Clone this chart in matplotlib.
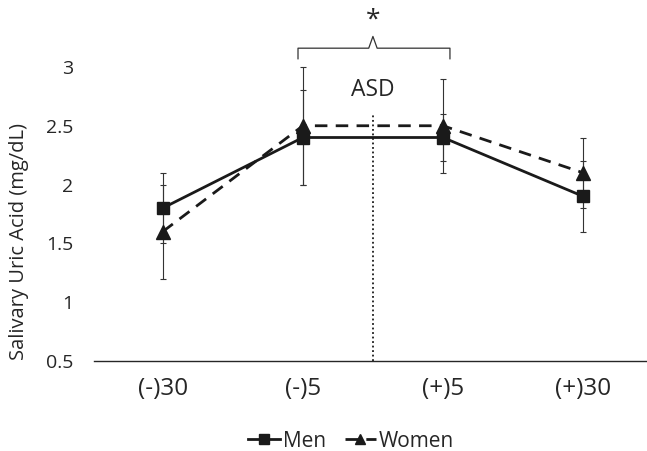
import matplotlib.pyplot as plt

plt.rcParams['font.family'] = ['Open Sans', 'DejaVu Sans']

times = ['(-)30', '(-)5', '(+)5', '(+)30']
men = [1.8, 2.4, 2.4, 1.9]
men_err = [0.3, 0.4, 0.2, 0.3]
women = [1.6, 2.5, 2.5, 2.1]
women_err = [0.4, 0.5, 0.4, 0.3]
yticks = [0.5, 1, 1.5, 2, 2.5, 3]

ink = '#1a1a1a'
txt = '#262626'

fig = plt.figure(figsize=(6.47, 4.51), dpi=100)
ax = fig.add_axes([0.145, 0.2, 0.855, 0.8])

x = list(range(len(times)))

ax.errorbar(x, men, yerr=men_err, fmt='none', ecolor='#333333', elinewidth=0.8, capsize=2.5, capthick=0.8, zorder=2)
ax.errorbar(x, women, yerr=women_err, fmt='none', ecolor='#333333', elinewidth=0.8, capsize=2.5, capthick=0.8, zorder=2)
ax.plot(x, men, color=ink, lw=2, marker='s', ms=8.5, label='Men', zorder=3)
ax.plot(x, women, color=ink, lw=2, dashes=(4.5, 3), marker='^', ms=9.5, label='Women', zorder=3)

# ASD marker line
ax.plot([1.5, 1.5], [0.5, 2.6], color=ink, lw=1.3, ls=(0, (1, 1.5)), zorder=1)
ax.text(1.5, 2.8, 'ASD', ha='center', va='center', fontsize=16.5, color=txt)

# significance bracket
bl, br, by, bd, bt = 0.965, 2.05, 3.16, 0.09, 3.26
ax.plot([bl, bl, 1.47, 1.5, 1.53, br, br], [by - bd, by, by, bt, by, by, by - bd], color='#333333', lw=0.9, solid_joinstyle='round')
ax.text(1.5, 3.4, '*', ha='center', va='center', fontsize=19, color=txt)

ax.set_xlim(-0.493, 3.457)
ax.set_ylim(0.5, 3.57)
ax.set_xticks(x)
ax.set_xticklabels(times, fontsize=17.5, color=txt)
ax.set_yticks(yticks)
ax.set_yticklabels([f'{v:g}' for v in yticks], fontsize=14, color=txt)
ax.tick_params(axis='both', length=0)
ax.tick_params(axis='x', pad=12)
ax.tick_params(axis='y', pad=15)
for s in ['left', 'right', 'top']:
    ax.spines[s].set_visible(False)
ax.spines['bottom'].set_color('#262626')
ax.spines['bottom'].set_linewidth(1)
ax.set_ylabel('Salivary Uric Acid (mg/dL)', fontsize=14.5, color=txt)
ax.yaxis.set_label_coords(-0.117, 0.33)

leg = fig.legend(loc='center', bbox_to_anchor=(0.543, 0.022), ncol=2, frameon=False, fontsize=15,
                 handlelength=1.5, handletextpad=0.15, columnspacing=0.9, labelcolor=txt, markerscale=0.8)

fig.savefig('out.png', dpi=100)
